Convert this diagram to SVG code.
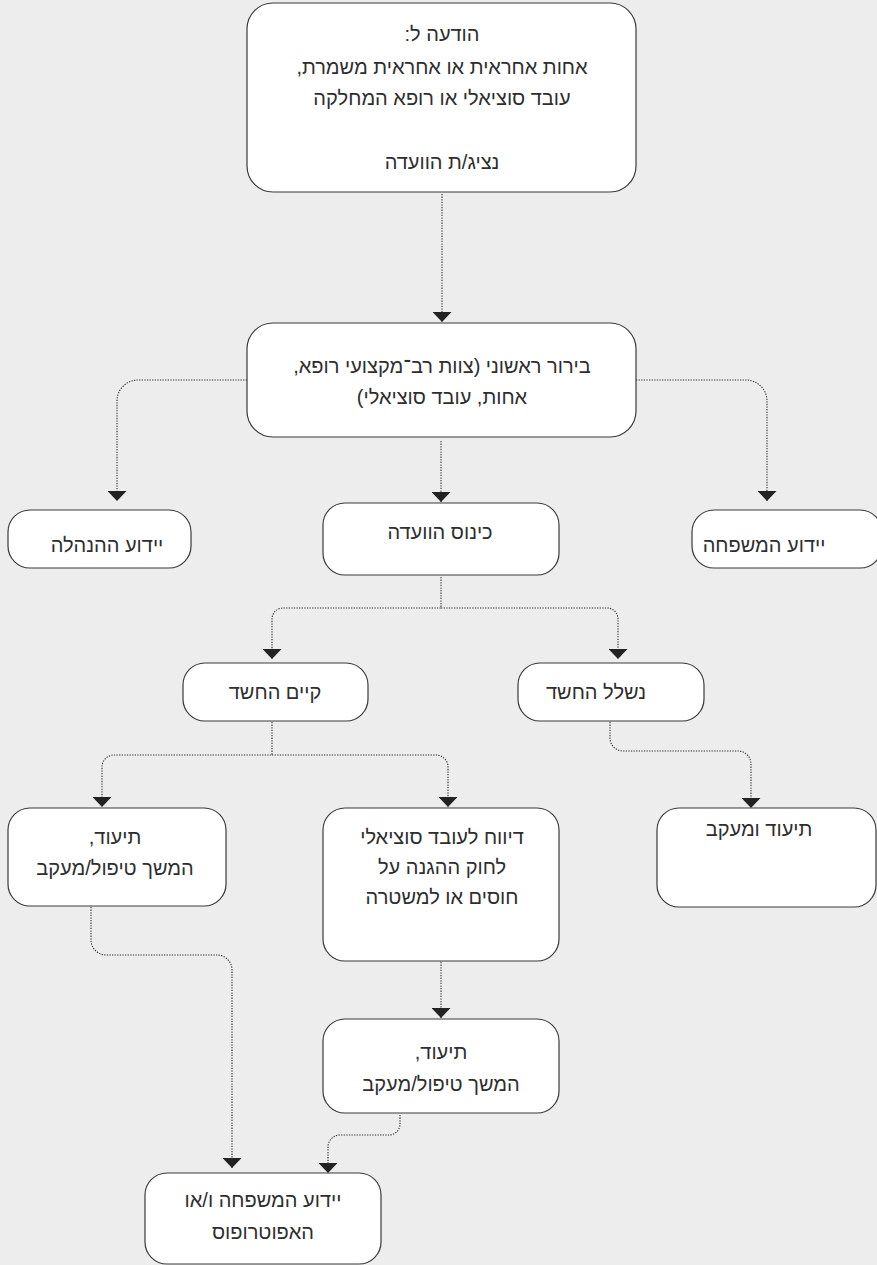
<svg xmlns="http://www.w3.org/2000/svg" width="877" height="1265" viewBox="0 0 877 1265">
<defs>
<style>
.bg{fill:#ededed}
.node rect{fill:#ffffff;stroke:#3a3a3a;stroke-width:1.2}
.node text{font-family:"Liberation Sans","DejaVu Sans",sans-serif;font-size:20px;fill:#2e2e2e;text-anchor:middle;direction:rtl}
.conn path{fill:none;stroke:#333;stroke-width:1.1;stroke-dasharray:1.3 1.3;marker-end:url(#arr)}
</style>
<marker id="arr" viewBox="0 0 10 19" refX="10" refY="9.5" markerWidth="10" markerHeight="19" markerUnits="userSpaceOnUse" orient="auto">
<path d="M0,0 L10,9.5 L0,19 Z" fill="#222" stroke="none"/>
</marker>
</defs>
<rect class="bg" x="0" y="0" width="877" height="1265"/>

<g id="connectors" class="conn">
<path d="M442,194 V322"/>
<path d="M247,380 H138 A21,21 0 0 0 117,401 V501"/>
<path d="M636,380 H746 A21,21 0 0 1 767,401 V501"/>
<path d="M441,441 V502"/>
<path d="M441,577 V608 H283 A11,11 0 0 0 272,619 V659"/>
<path d="M441,608 H607 A11,11 0 0 1 618,619 V659"/>
<path d="M610,722 V738 A13,13 0 0 0 623,751 H738 A13,13 0 0 1 751,764 V808"/>
<path d="M272,722 V755 H114 A12,12 0 0 0 102,767 V807"/>
<path d="M272,755 H436 A12,12 0 0 1 448,767 V807"/>
<path d="M441,962 V1018"/>
<path d="M91,907 V940 A15,15 0 0 0 106,955 H217 A15,15 0 0 1 232,970 V1168"/>
<path d="M400,1115 V1124 A11,11 0 0 1 389,1135 H340 A12,12 0 0 0 328,1147 V1173"/>
</g>

<g id="n1" class="node">
<rect x="247" y="3" width="389" height="189" rx="26"/>
<text x="442" y="41">הודעה ל:</text>
<text x="442" y="74">אחות אחראית או אחראית משמרת,</text>
<text x="442" y="105">עובד סוציאלי או רופא המחלקה</text>
<text x="442" y="169">נציג/ת הוועדה</text>
</g>

<g id="n2" class="node">
<rect x="247" y="323" width="389" height="114" rx="26"/>
<text x="442" y="373">בירור ראשוני (צוות רב־מקצועי רופא,</text>
<text x="442" y="404">אחות, עובד סוציאלי)</text>
</g>

<g id="n3" class="node">
<rect x="8" y="510" width="183" height="58" rx="22"/>
<text x="107" y="552">יידוע ההנהלה</text>
</g>

<g id="n4" class="node">
<rect x="323" y="503" width="236" height="72" rx="22"/>
<text x="440" y="539">כינוס הוועדה</text>
</g>

<g id="n5" class="node">
<rect x="692" y="510" width="190" height="58" rx="22"/>
<text x="764" y="552">יידוע המשפחה</text>
</g>

<g id="n6" class="node">
<rect x="183" y="663" width="185" height="58" rx="22"/>
<text x="275" y="699">קיים החשד</text>
</g>

<g id="n7" class="node">
<rect x="518" y="663" width="186" height="58" rx="22"/>
<text x="596" y="699">נשלל החשד</text>
</g>

<g id="n8" class="node">
<rect x="8" y="808" width="218" height="98" rx="22"/>
<text x="115" y="844">תיעוד,</text>
<text x="115" y="875">המשך טיפול/מעקב</text>
</g>

<g id="n9" class="node">
<rect x="323" y="808" width="236" height="153" rx="22"/>
<text x="442" y="844">דיווח לעובד סוציאלי</text>
<text x="442" y="874">לחוק ההגנה על</text>
<text x="442" y="904">חוסים או למשטרה</text>
</g>

<g id="n10" class="node">
<rect x="657" y="808" width="219" height="99" rx="22"/>
<text x="759" y="836">תיעוד ומעקב</text>
</g>

<g id="n11" class="node">
<rect x="323" y="1019" width="236" height="94" rx="22"/>
<text x="441" y="1059">תיעוד,</text>
<text x="441" y="1091">המשך טיפול/מעקב</text>
</g>

<g id="n12" class="node">
<rect x="145" y="1173" width="236" height="91" rx="22"/>
<text x="263" y="1207">יידוע המשפחה ו/או</text>
<text x="263" y="1239">האפוטרופוס</text>
</g>
</svg>
